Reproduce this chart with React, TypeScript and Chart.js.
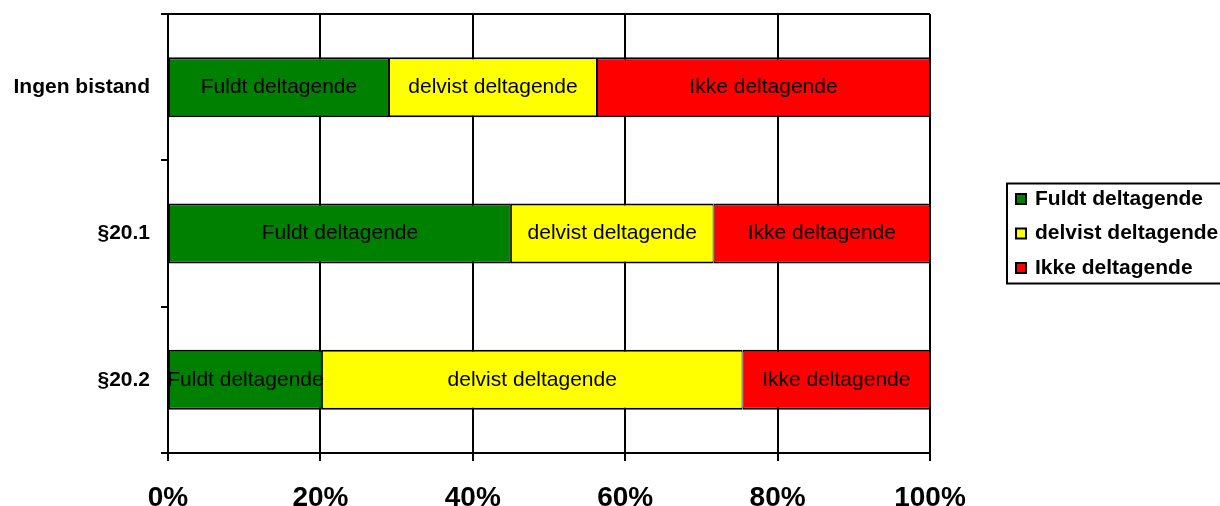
import React, { useEffect, useRef } from 'react';
import { Chart, registerables } from 'chart.js';

Chart.register(...registerables);

const categories = ['Ingen bistand', '§20.1', '§20.2'];
const seriesNames = ['Fuldt deltagende', 'delvist deltagende', 'Ikke deltagende'];
const fuldtValues = [29.0, 45.0, 20.2];
const delvistValues = [27.3, 26.6, 55.2];
const ikkeValues = [43.7, 28.4, 24.6];
const xTickValues = [0, 20, 40, 60, 80, 100];
const seriesColors = ['#008000', '#FFFF00', '#FF0000'];

const FONT = '"Liberation Sans", Arial, sans-serif';

const barLabelsPlugin = {
  id: 'barLabels',
  afterDatasetsDraw(chart: any) {
    const ctx = chart.ctx;
    ctx.save();
    ctx.font = `normal 21px ${FONT}`;
    ctx.fillStyle = '#000';
    ctx.textAlign = 'center';
    ctx.textBaseline = 'middle';
    chart.data.datasets.forEach((ds: any, di: number) => {
      const meta = chart.getDatasetMeta(di);
      meta.data.forEach((el: any) => {
        const x = (el.x + el.base) / 2;
        ctx.fillText(ds.label, x, el.y);
      });
    });
    ctx.restore();
  },
};

const boxLegendPlugin = {
  id: 'boxLegend',
  afterDraw(chart: any) {
    const ctx = chart.ctx;
    const area = chart.chartArea;
    const cy = (area.top + area.bottom) / 2;
    const left = area.right + 77;
    const spacing = 34.5;
    const n = chart.data.datasets.length;
    const boxH = 100;
    ctx.save();
    ctx.lineWidth = 2;
    ctx.strokeStyle = '#000';
    ctx.strokeRect(left, cy - boxH / 2, 300, boxH);
    ctx.font = `bold 21px ${FONT}`;
    ctx.textAlign = 'left';
    ctx.textBaseline = 'middle';
    chart.data.datasets.forEach((ds: any, i: number) => {
      const y = cy + (i - (n - 1) / 2) * spacing;
      ctx.fillStyle = ds.backgroundColor;
      ctx.fillRect(left + 9, y - 5, 10, 10);
      ctx.lineWidth = 2;
      ctx.strokeStyle = '#000';
      ctx.strokeRect(left + 9, y - 5, 10, 10);
      ctx.fillStyle = '#000';
      ctx.fillText(ds.label, left + 28, y);
    });
    ctx.restore();
  },
};

export default function App() {
  const canvasRef = useRef<HTMLCanvasElement | null>(null);

  useEffect(() => {
    if (!canvasRef.current) return;
    const valueSets = [fuldtValues, delvistValues, ikkeValues];
    const nLines = categories.length;
    const chart = new Chart(canvasRef.current, {
      type: 'bar',
      data: {
        labels: categories,
        datasets: seriesNames.map((name, i) => ({
          label: name,
          data: valueSets[i],
          backgroundColor: seriesColors[i],
          borderColor: '#000',
          borderWidth: { top: 2, bottom: 2, left: 1, right: 1 },
          borderSkipped: false,
          categoryPercentage: 1,
          barPercentage: 0.41,
        })),
      },
      options: {
        indexAxis: 'y',
        responsive: false,
        animation: false,
        devicePixelRatio: 1,
        layout: { padding: { top: 14, right: 290, left: 0, bottom: 0 } },
        plugins: {
          legend: { display: false },
          tooltip: { enabled: false },
        },
        scales: {
          x: {
            stacked: true,
            min: 0,
            max: 100,
            afterBuildTicks(scale: any) {
              scale.ticks = xTickValues.map((v) => ({ value: v }));
            },
            afterFit(scale: any) {
              scale.height = 53;
              scale.paddingLeft = 0;
              scale.paddingRight = 0;
            },
            ticks: {
              callback: (v: any) => `${v}%`,
              color: '#000',
              font: { family: FONT, size: 28, weight: 'bold' },
              padding: 20,
              maxRotation: 0,
            },
            grid: {
              color: '#000',
              lineWidth: 2,
              tickLength: 8,
              drawTicks: true,
            },
            border: { display: true, color: '#000', width: 2 },
          },
          y: {
            stacked: true,
            afterFit(scale: any) {
              scale.width = 168;
              scale.paddingTop = 0;
              scale.paddingBottom = 0;
            },
            ticks: {
              color: '#000',
              font: { family: FONT, size: 21, weight: 'bold' },
              padding: 11,
            },
            grid: {
              offset: true,
              lineWidth: 2,
              tickLength: 7,
              color: (c: any) =>
                c.index === 0 || c.index === nLines ? '#000' : 'rgba(0,0,0,0)',
              tickColor: '#000',
            },
            border: { display: true, color: '#000', width: 2 },
          },
        },
      },
      plugins: [barLabelsPlugin, boxLegendPlugin],
    } as any);
    return () => chart.destroy();
  }, []);

  return (
    <div style={{ position: 'absolute', left: 0, top: 0, width: 1220, height: 506, background: '#fff' }}>
      <canvas ref={canvasRef} width={1220} height={506} style={{ display: 'block' }} />
    </div>
  );
}
